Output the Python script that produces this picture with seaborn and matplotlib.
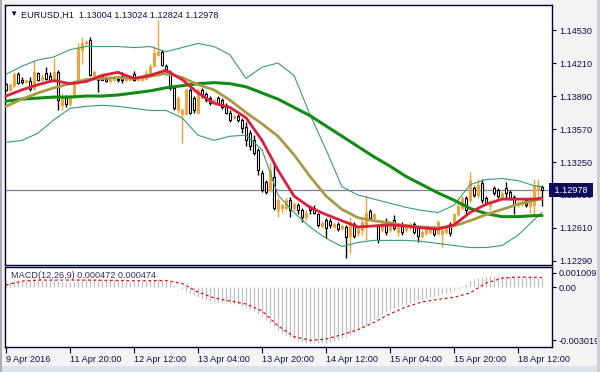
import numpy as np
import pandas as pd
import matplotlib
matplotlib.use("Agg")
import matplotlib.pyplot as plt
import matplotlib.transforms as mtransforms
from matplotlib.patches import Rectangle
import seaborn as sns

# ---------------- data ----------------
symbol = "EURUSD,H1"
ohlc_last = ["1.13004", "1.13024", "1.12824", "1.12978"]

opens = [1.1401, 1.1395, 1.1399, 1.1410, 1.1405, 1.1403, 1.1404, 1.1396, 1.1411, 1.1405,
         1.1411, 1.1408, 1.1405, 1.1412, 1.1380, 1.1388, 1.1381, 1.1389, 1.1403, 1.1434,
         1.1440, 1.1443, 1.1408, 1.1407, 1.1408, 1.1406, 1.1404, 1.1405, 1.1406, 1.1408,
         1.1405, 1.1405, 1.1410, 1.1405, 1.1405, 1.1406, 1.1409, 1.1418, 1.1429, 1.1432,
         1.1418, 1.1412, 1.1397, 1.1375, 1.1372, 1.1372, 1.1395, 1.1387, 1.1373, 1.1395,
         1.1391, 1.1387, 1.1383, 1.1387, 1.1385, 1.1380, 1.1373, 1.1368, 1.1370, 1.1366,
         1.1359, 1.1353, 1.1346, 1.1337, 1.1314, 1.1306, 1.1298, 1.1310, 1.1278, 1.1280,
         1.1280, 1.1288, 1.1280, 1.1283, 1.1278, 1.1272, 1.1281, 1.1280, 1.1275, 1.1263,
         1.1269, 1.1268, 1.1262, 1.1265, 1.1261, 1.1262, 1.1253, 1.1265, 1.1256, 1.1259,
         1.1264, 1.1277, 1.1271, 1.1263, 1.1259, 1.1267, 1.1259, 1.1269, 1.1257, 1.1264,
         1.1259, 1.1261, 1.1265, 1.1261, 1.1253, 1.1256, 1.1257, 1.1261, 1.1256, 1.1255,
         1.1257, 1.1265, 1.1266, 1.1275, 1.1280, 1.1290, 1.1288, 1.1300, 1.1293, 1.1305,
         1.1290, 1.1282, 1.1300, 1.1298, 1.1291, 1.1300, 1.1296, 1.1291, 1.1283, 1.1284,
         1.1288, 1.1282, 1.1283, 1.1298, 1.13004]
highs = [1.1402, 1.1402, 1.1412, 1.1412, 1.1407, 1.1405, 1.1407, 1.1424, 1.1412, 1.1410,
         1.1417, 1.1412, 1.1426, 1.1414, 1.1392, 1.1390, 1.1391, 1.1405, 1.1440, 1.1446,
         1.1443, 1.1446, 1.1414, 1.1409, 1.1410, 1.1408, 1.1408, 1.1408, 1.1408, 1.1412,
         1.1409, 1.1409, 1.1413, 1.1408, 1.1409, 1.1414, 1.1420, 1.1438, 1.1463, 1.1434,
         1.1420, 1.1414, 1.1399, 1.1389, 1.1377, 1.1397, 1.1397, 1.1389, 1.1397, 1.1397,
         1.1393, 1.1389, 1.1387, 1.1389, 1.1387, 1.1382, 1.1375, 1.1372, 1.1372, 1.1368,
         1.1364, 1.1356, 1.1351, 1.1339, 1.1317, 1.1308, 1.1324, 1.1324, 1.1291, 1.1285,
         1.1291, 1.1291, 1.1286, 1.1285, 1.1280, 1.1278, 1.1283, 1.1283, 1.1276, 1.1268,
         1.1271, 1.1271, 1.1267, 1.1267, 1.1265, 1.1264, 1.1272, 1.1267, 1.1263, 1.1269,
         1.1293, 1.1279, 1.1276, 1.1265, 1.1269, 1.1271, 1.1267, 1.1274, 1.1266, 1.1267,
         1.1265, 1.1267, 1.1267, 1.1263, 1.1259, 1.1262, 1.1262, 1.1263, 1.1269, 1.1263,
         1.1263, 1.1267, 1.1276, 1.1284, 1.1292, 1.1292, 1.1315, 1.1302, 1.1309, 1.1309,
         1.1292, 1.1288, 1.1302, 1.1300, 1.1297, 1.1306, 1.1298, 1.1293, 1.1287, 1.1288,
         1.1290, 1.1292, 1.1309, 1.1309, 1.13024]
lows = [1.1394, 1.1394, 1.1398, 1.1401, 1.1401, 1.1402, 1.1394, 1.1395, 1.1404, 1.1404,
        1.1405, 1.1403, 1.1403, 1.1375, 1.1375, 1.1378, 1.1379, 1.1387, 1.1401, 1.1420,
        1.1438, 1.1408, 1.1406, 1.1393, 1.1405, 1.1403, 1.1402, 1.1404, 1.1403, 1.1402,
        1.1403, 1.1405, 1.1404, 1.1404, 1.1404, 1.1405, 1.1408, 1.1417, 1.1428, 1.1418,
        1.1409, 1.1395, 1.1375, 1.1373, 1.1343, 1.1371, 1.1372, 1.1373, 1.1372, 1.1387,
        1.1383, 1.1380, 1.1382, 1.1380, 1.1376, 1.1372, 1.1364, 1.1367, 1.1364, 1.1353,
        1.1341, 1.1337, 1.1332, 1.1312, 1.1296, 1.1294, 1.1296, 1.1278, 1.1272, 1.1276,
        1.1278, 1.1272, 1.1277, 1.1275, 1.1267, 1.1269, 1.1275, 1.1275, 1.1262, 1.1261,
        1.1251, 1.1261, 1.1261, 1.1258, 1.1259, 1.1232, 1.1237, 1.1251, 1.1253, 1.1254,
        1.1249, 1.1269, 1.1269, 1.1246, 1.1257, 1.1254, 1.1257, 1.1259, 1.1253, 1.1254,
        1.1257, 1.1259, 1.1255, 1.1247, 1.1251, 1.1254, 1.1255, 1.1253, 1.1254, 1.1243,
        1.1255, 1.1253, 1.1264, 1.1273, 1.1278, 1.1275, 1.1286, 1.1291, 1.1290, 1.1285,
        1.1283, 1.1278, 1.1293, 1.1290, 1.1289, 1.1290, 1.1288, 1.1275, 1.1281, 1.1282,
        1.1281, 1.1276, 1.1274, 1.1288, 1.12824]
closes = [1.1395, 1.1400, 1.1410, 1.1402, 1.1403, 1.1405, 1.1396, 1.1412, 1.1405, 1.1407,
          1.1406, 1.1405, 1.1412, 1.1385, 1.1388, 1.1381, 1.1389, 1.1403, 1.1436, 1.1440,
          1.1441, 1.1409, 1.1412, 1.1405, 1.1405, 1.1404, 1.1406, 1.1406, 1.1405, 1.1405,
          1.1407, 1.1407, 1.1405, 1.1406, 1.1407, 1.1411, 1.1418, 1.1431, 1.1433, 1.1419,
          1.1412, 1.1397, 1.1377, 1.1387, 1.1375, 1.1395, 1.1373, 1.1375, 1.1395, 1.1389,
          1.1385, 1.1382, 1.1385, 1.1382, 1.1378, 1.1373, 1.1366, 1.1370, 1.1366, 1.1358,
          1.1346, 1.1341, 1.1334, 1.1317, 1.1298, 1.1296, 1.1317, 1.1280, 1.1288, 1.1283,
          1.1288, 1.1278, 1.1284, 1.1278, 1.1272, 1.1276, 1.1278, 1.1276, 1.1264, 1.1266,
          1.1261, 1.1264, 1.1265, 1.1260, 1.1263, 1.1252, 1.1267, 1.1253, 1.1261, 1.1267,
          1.1276, 1.1271, 1.1275, 1.1249, 1.1267, 1.1257, 1.1265, 1.1261, 1.1264, 1.1257,
          1.1263, 1.1265, 1.1257, 1.1253, 1.1257, 1.1260, 1.1260, 1.1255, 1.1267, 1.1259,
          1.1261, 1.1256, 1.1275, 1.1282, 1.1290, 1.1278, 1.1308, 1.1293, 1.1303, 1.1288,
          1.1285, 1.1285, 1.1295, 1.1292, 1.1295, 1.1295, 1.1290, 1.1283, 1.1285, 1.1286,
          1.1283, 1.1288, 1.1302, 1.1303, 1.12978]

# indicator lines, sampled every 4 bars
line_idx = [0, 4, 8, 12, 16, 20, 24, 28, 32, 36, 40, 44, 48, 52, 56, 60, 64, 68, 72, 76,
            80, 84, 88, 92, 96, 100, 104, 108, 112, 116, 120, 124, 128, 132, 134]
ma_fast = [1.1389, 1.1395, 1.1400, 1.1404, 1.1401, 1.1403, 1.1409, 1.1412, 1.1406, 1.1409,
           1.1414, 1.1405, 1.1392, 1.1382, 1.1378, 1.1368, 1.1346, 1.1317, 1.1292, 1.1281,
           1.1274, 1.1268, 1.1262, 1.1263, 1.1264, 1.1263, 1.1261, 1.1260, 1.1264, 1.1276,
           1.1284, 1.1289, 1.1289, 1.1289, 1.1290]
ma_mid = [1.1379, 1.1386, 1.1392, 1.1397, 1.1401, 1.1405, 1.1406, 1.1407, 1.1406, 1.1408,
          1.1411, 1.1407, 1.1400, 1.1395, 1.1385, 1.1373, 1.1362, 1.1350, 1.1332, 1.1311,
          1.1292, 1.1279, 1.1271, 1.1268, 1.1266, 1.1263, 1.1262, 1.1261, 1.1263, 1.1268,
          1.1274, 1.1279, 1.1284, 1.1288, 1.1289]
ma_slow = [1.1384, 1.1386, 1.1387, 1.1388, 1.1388, 1.1389, 1.1389, 1.1390, 1.1392, 1.1394,
           1.1397, 1.1399, 1.1401, 1.1402, 1.1401, 1.1398, 1.1392, 1.1386, 1.1378, 1.1370,
           1.1360, 1.1350, 1.1340, 1.1330, 1.1321, 1.1311, 1.1303, 1.1295, 1.1288, 1.1280,
           1.1275, 1.1272, 1.1272, 1.1273, 1.1273]
bb_upper = [1.1410, 1.1418, 1.1424, 1.1427, 1.1434, 1.1437, 1.1437, 1.1437, 1.1436, 1.1437,
            1.1432, 1.1436, 1.1440, 1.1437, 1.1429, 1.1406, 1.1417, 1.1421, 1.1409, 1.1371,
            1.1337, 1.1301, 1.1293, 1.1289, 1.1285, 1.1281, 1.1278, 1.1276, 1.1283, 1.1303,
            1.1308, 1.1309, 1.1307, 1.1302, 1.1301]
bb_lower = [1.1344, 1.1346, 1.1353, 1.1366, 1.1377, 1.1379, 1.1380, 1.1379, 1.1377, 1.1375,
            1.1375, 1.1368, 1.1351, 1.1346, 1.1350, 1.1351, 1.1337, 1.1293, 1.1276, 1.1262,
            1.1251, 1.1243, 1.1247, 1.1249, 1.1249, 1.1249, 1.1248, 1.1246, 1.1244, 1.1242,
            1.1242, 1.1244, 1.1254, 1.1269, 1.1276]

macd_hist = [0.00020, 0.00025, 0.00028, 0.00030, 0.00032, 0.00033, 0.00034, 0.00035, 0.00036, 0.00036,
             0.00035, 0.00034, 0.00035, 0.00030, 0.00026, 0.00024, 0.00023, 0.00024, 0.00030, 0.00036,
             0.00040, 0.00040, 0.00039, 0.00038, 0.00037, 0.00036, 0.00035, 0.00034, 0.00033, 0.00032,
             0.00031, 0.00030, 0.00030, 0.00030, 0.00030, 0.00031, 0.00033, 0.00036, 0.00038, 0.00036,
             0.00033, 0.00025, 0.00012, 0.00000, -0.00010, -0.00020, -0.00030, -0.00040, -0.00050, -0.00058,
             -0.00064, -0.00068, -0.00071, -0.00073, -0.00075, -0.00077, -0.00080, -0.00083, -0.00087, -0.00093,
             -0.00100, -0.00110, -0.00122, -0.00136, -0.00152, -0.00168, -0.00183, -0.00200, -0.00215, -0.00230,
             -0.00242, -0.00253, -0.00262, -0.00270, -0.00276, -0.00280, -0.00283, -0.00284, -0.00284, -0.00283,
             -0.00280, -0.00276, -0.00271, -0.00265, -0.00258, -0.00250, -0.00240, -0.00230, -0.00218, -0.00205,
             -0.00190, -0.00176, -0.00162, -0.00150, -0.00138, -0.00127, -0.00117, -0.00108, -0.00100, -0.00092,
             -0.00085, -0.00078, -0.00072, -0.00066, -0.00060, -0.00055, -0.00050, -0.00045, -0.00040, -0.00035,
             -0.00030, -0.00024, -0.00016, -0.00006, 0.00005, 0.00016, 0.00028, 0.00038, 0.00045, 0.00050,
             0.00053, 0.00055, 0.00056, 0.00056, 0.00056, 0.00055, 0.00054, 0.00053, 0.00052, 0.00051,
             0.00050, 0.00049, 0.00048, 0.00047, 0.000472]
macd_signal = [0.00010, 0.00030, 0.00035, 0.00035, 0.00035, 0.00035, 0.00034, 0.00033, 0.00032, 0.00032,
               0.00033, 0.00018, -0.00025, -0.00055, -0.00070, -0.00085, -0.00120, -0.00195, -0.00250, -0.00268,
               -0.00262, -0.00240, -0.00215, -0.00178, -0.00135, -0.00100, -0.00075, -0.00062, -0.00052, -0.00030,
               0.00020, 0.00045, 0.00050, 0.00049, 0.000474]
macd_text = "MACD(12,26,9) 0.000472 0.000474"
macd_max, macd_min = 0.001009, -0.003019

price_ticks = [1.14530, 1.14210, 1.13890, 1.13570, 1.13250, 1.12930, 1.12610, 1.12290]
date_tick_idx = [0, 16, 32, 48, 64, 80, 96, 112, 128]
date_labels = ["9 Apr 2016", "11 Apr 20:00", "12 Apr 12:00", "13 Apr 04:00", "13 Apr 20:00",
               "14 Apr 12:00", "15 Apr 04:00", "15 Apr 20:00", "18 Apr 12:00"]

# ---------------- style ----------------
sns.set_theme(style="white")
plt.rcParams["font.family"] = ["Liberation Sans", "DejaVu Sans"]
FS = 6.6
NAVY = "#10104a"
ORANGE = "#f2a33a"
FRAME = "#000030"

W, H = 600, 372
fig = plt.figure(figsize=(W / 100, H / 100), dpi=100, facecolor="#f3f3f3")

# window frame strips
fig.patches.append(Rectangle((0, 0), 1, 6 / H, transform=fig.transFigure, fc="#dbe3ec", ec="none", zorder=0))
fig.patches.append(Rectangle((0, 0), 2 / W, 1, transform=fig.transFigure, fc="#a9adb3", ec="none", zorder=0))
fig.patches.append(Rectangle((1 - 3 / W, 0), 3 / W, 1, transform=fig.transFigure, fc="#c9d0d8", ec="none", zorder=5))

ax = fig.add_axes([5 / W, 1 - 265 / H, 547 / W, 260 / H])
ax2 = fig.add_axes([5 / W, 1 - 347 / H, 547 / W, 80 / H], sharex=ax)

df = pd.DataFrame({"open": opens, "high": highs, "low": lows, "close": closes})
df["idx"] = np.arange(len(df))
bull = df[df["close"] >= df["open"]]
bear = df[df["close"] < df["open"]]

# candles
ax.vlines(bull["idx"], bull["low"], bull["high"], color=ORANGE, lw=1.0, zorder=2)
ax.bar(bull["idx"], bull["close"] - bull["open"], bottom=bull["open"], width=0.6,
       color=ORANGE, edgecolor=ORANGE, lw=0.7, zorder=3)
ax.vlines(bear["idx"], bear["low"], bear["high"], color="black", lw=1.0, zorder=2)
ax.bar(bear["idx"], bear["open"] - bear["close"], bottom=bear["close"], width=0.6,
       color="white", edgecolor="black", lw=0.8, zorder=3)

lines = pd.DataFrame({"idx": line_idx, "fast": ma_fast, "mid": ma_mid, "slow": ma_slow,
                      "up": bb_upper, "lo": bb_lower})
for col, colr, lw in [("up", "#3a9a78", 0.8), ("lo", "#3a9a78", 0.8),
                      ("slow", "#138a13", 2.2), ("mid", "#aa9a45", 2.0), ("fast", "#d8203c", 2.0)]:
    sns.lineplot(data=lines, x="idx", y=col, ax=ax, color=colr, lw=lw, legend=False, zorder=4)

last_close = closes[-1]
ax.axhline(last_close, color="#7a8594", lw=0.9, zorder=1)

ax.set_xlim(-0.25, 136.5)
ax.set_ylim(1.12251, 1.14773)
ax.set_yticks(price_ticks)
ax.set_yticklabels([f"{v:.5f}" for v in price_ticks])
ax.yaxis.tick_right()
ax.tick_params(axis="y", direction="out", length=3, width=0.8, color=FRAME, labelsize=FS,
               labelcolor=NAVY, pad=2, right=True, left=False)
ax.tick_params(axis="x", bottom=False, labelbottom=False)
ax.set_xlabel("")
ax.set_ylabel("")
ax.set_facecolor("white")
for s in ax.spines.values():
    s.set_color(FRAME)
    s.set_linewidth(1.0)

trans = mtransforms.blended_transform_factory(ax.transAxes, ax.transData)
ax.text(1.0, last_close, " " + ohlc_last[3] + " ", transform=trans, ha="left", va="center",
        fontsize=FS, color="white", zorder=10, clip_on=False,
        bbox=dict(boxstyle="square,pad=0.28", fc="#0b0b5a", ec="none"))

ax.text(0.0075, 0.962, "\u25BC", transform=ax.transAxes, fontsize=6, color=NAVY, va="center", ha="left")
ax.text(0.030, 0.962, symbol + "  " + " ".join(ohlc_last), transform=ax.transAxes,
        fontsize=FS, color=NAVY, va="center", ha="left")

# MACD panel
ax2.vlines(df["idx"], 0, macd_hist, color="#c0c0c0", lw=0.9, zorder=2)
sig = pd.DataFrame({"idx": line_idx, "sig": macd_signal})
sns.lineplot(data=sig, x="idx", y="sig", ax=ax2, color="#e01010", lw=0.9, legend=False, zorder=3)
ax2.lines[-1].set_dashes([2.2, 2.2])
ax2.set_ylim(macd_min, macd_max)
rng = macd_max - macd_min
ax2.set_yticks([macd_max - rng * 6 / 80, 0.0, macd_min + rng * 7 / 80])
ax2.set_yticklabels([f"{macd_max:.6f}", "0.00", f"{macd_min:.6f}"])
ax2.yaxis.tick_right()
ax2.tick_params(axis="y", direction="out", length=3, width=0.8, color=FRAME, labelsize=FS,
                labelcolor=NAVY, pad=2, right=True, left=False)
ax2.set_xticks(date_tick_idx)
ax2.set_xticklabels(date_labels, ha="left")
ax2.tick_params(axis="x", direction="out", length=4, width=0.8, color=FRAME, labelsize=FS,
                labelcolor=NAVY, pad=2, bottom=True)
ax2.set_xlabel("")
ax2.set_ylabel("")
ax2.set_facecolor("white")
for s in ax2.spines.values():
    s.set_color(FRAME)
    s.set_linewidth(1.0)
ax2.text(0.011, 0.90, macd_text, transform=ax2.transAxes, fontsize=FS, color="#30305a",
         va="center", ha="left")
ax2.set_xlim(-0.25, 136.5)

fig.savefig("out.png", dpi=100, facecolor=fig.get_facecolor())
